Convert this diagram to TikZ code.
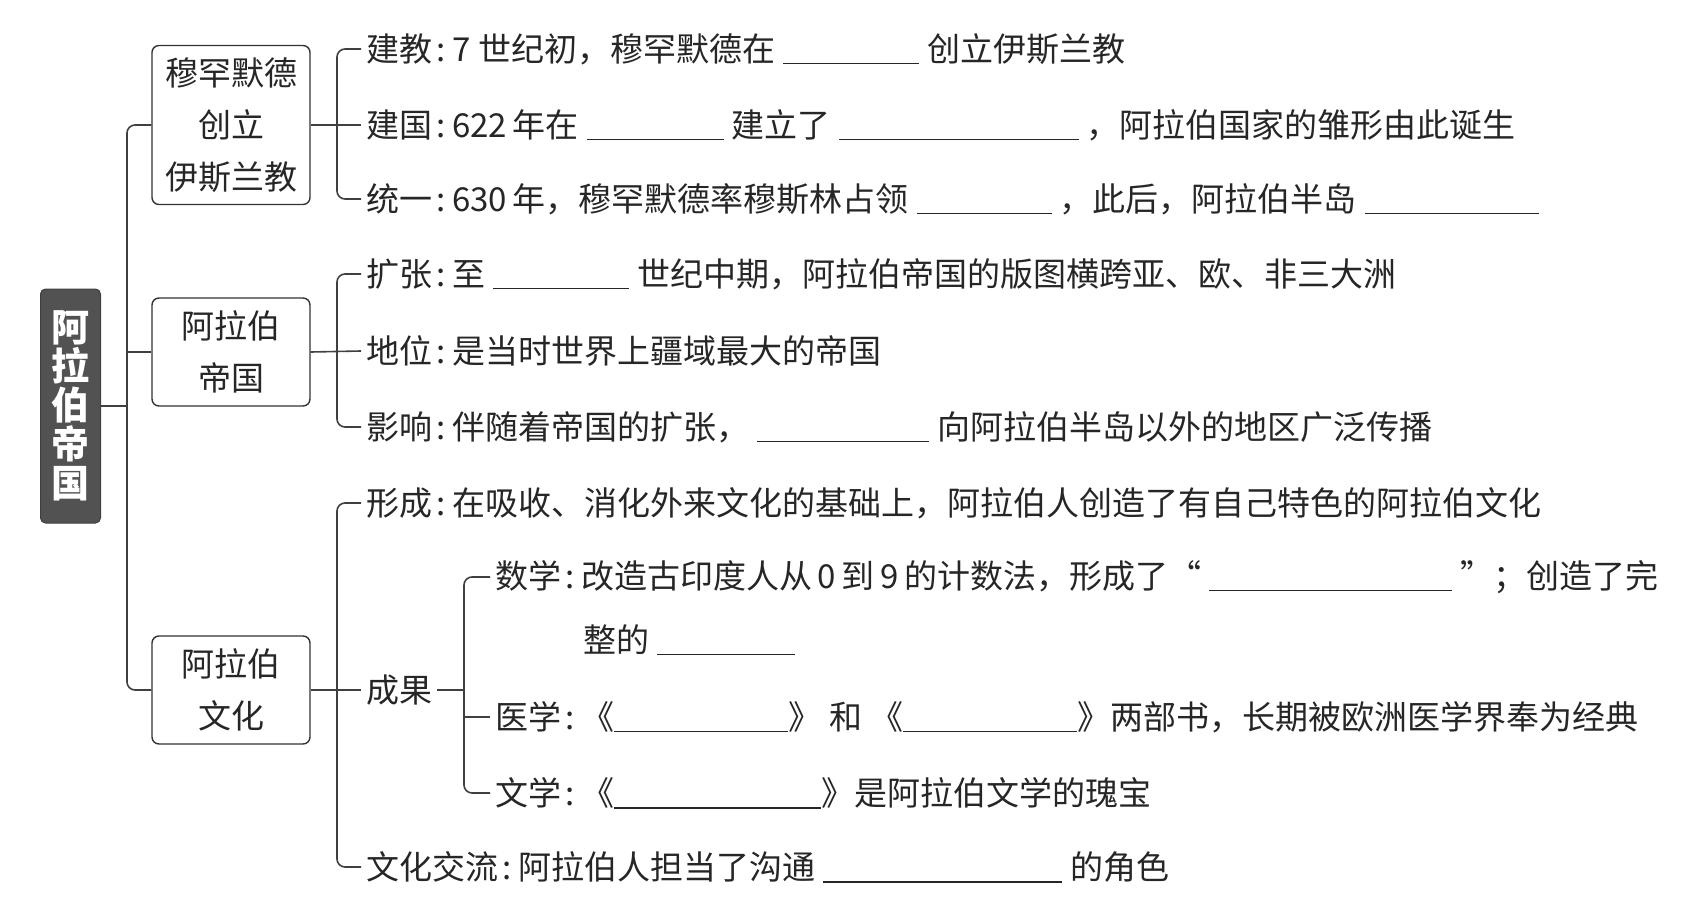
\documentclass[tikz,border=0pt]{standalone}
\usepackage{fontspec}
\setmainfont{Noto Sans CJK SC}
\usepackage{tikz}
\tikzset{
  mmtitle/.style={fill=black!68, draw=black!75, line width=1pt, rounded corners=5pt, text=white, font=\fontsize{38}{39}\selectfont\bfseries, align=center, minimum width=60pt, minimum height=234pt, inner sep=0pt},
  mmbox/.style={draw=black!80, line width=1.4pt, rounded corners=7pt, minimum width=158pt, align=center, inner sep=0pt, text=black!85, font=\fontsize{33}{52}\selectfont},
  mmtext/.style={anchor=west, inner xsep=5pt, inner ysep=2pt, text=black!85, font=\fontsize{33}{40}\selectfont},
  mmline/.style={line width=1.6pt, draw=black!75, rounded corners=8pt},
}
\newcommand{\blank}[1]{\rule[-3pt]{#1pt}{1.1pt}}
\newcommand{\gp}{\hspace{8pt}}
\newcommand{\cn}{\hspace{4pt}:\hspace{7pt}}

\begin{document}
\begin{tikzpicture}[x=1pt,y=-1pt]
\useasboundingbox (0,0) rectangle (1708,913);
\node[mmtitle] (arab) at (70.5,406) {阿\\拉\\伯\\帝\\国};
\node[mmbox, minimum height=159pt] (mhmd) at (231,125) {穆罕默德\\创立\\伊斯兰教};
\node[mmbox, minimum height=108pt] (empire) at (231,352) {阿拉伯\\帝国};
\node[mmbox, minimum height=108pt] (culture) at (231,690) {阿拉伯\\文化};
\coordinate (trunk) at (127,0);
\coordinate (brA) at (337,0);
\coordinate (brB) at (464,0);
\node[mmtext] (jianjiao) at (361,49) {建教\cn 7 世纪初，穆罕默德在\gp\blank{136}\gp 创立伊斯兰教};
\node[mmtext] (jianguo) at (361,125) {建国\cn 622\,年在\gp\blank{137}\gp 建立了\gp\blank{240}\gp，阿拉伯国家的雏形由此诞生};
\node[mmtext] (tongyi) at (361,199) {统一\cn 630\,年，穆罕默德率穆斯林占领\gp\blank{135}\gp，此后，阿拉伯半岛\gp\blank{174}};
\node[mmtext] (kuozhang) at (361,274) {扩张\cn 至\gp\blank{136}\gp 世纪中期，阿拉伯帝国的版图横跨亚、欧、非三大洲};
\node[mmtext] (diwei) at (361,351) {地位\cn 是当时世界上疆域最大的帝国};
\node[mmtext] (yingxiang) at (361,427) {影响\cn 伴随着帝国的扩张，\gp\blank{172}\gp 向阿拉伯半岛以外的地区广泛传播};
\node[mmtext] (xingcheng) at (361,503) {形成\cn 在吸收、消化外来文化的基础上，阿拉伯人创造了有自己特色的阿拉伯文化};
\node[mmtext] (chengguo) at (361,690) {成果};
\node[mmtext] (jiaoliu) at (361,867) {文化交流\cn 阿拉伯人担当了沟通\gp\blank{239}\gp 的角色};
\node[mmtext] (shuxue) at (490,577) {数学\cn 改造古印度人从\,0\,到\,9\,的计数法，形成了“\gp\blank{243}\gp”；创造了完};
\node[mmtext] (shuxueb) at (578,640) {整的\gp\blank{138}};
\node[mmtext] (yixue) at (490,717) {医学\cn《\blank{174}》\gp 和\gp《\blank{174}》两部书，长期被欧洲医学界奉为经典};
\node[mmtext] (wenxue) at (490,793) {文学\cn《\blank{207}》是阿拉伯文学的瑰宝};
\draw[mmline] (mhmd.west) -- (mhmd.west -| trunk) -- (culture.west -| trunk) -- (culture.west);
\draw[mmline] (arab.east) -- (arab.east -| trunk);
\draw[mmline] (empire.west -| trunk) -- (empire.west);
\draw[mmline] (jianjiao.west) -- (jianjiao.west -| brA) -- (tongyi.west -| brA) -- (tongyi.west);
\draw[mmline] (mhmd.east) -- (jianguo.west);
\draw[mmline] (kuozhang.west) -- (kuozhang.west -| brA) -- (yingxiang.west -| brA) -- (yingxiang.west);
\draw[mmline] (empire.east) -- (diwei.west);
\draw[mmline] (xingcheng.west) -- (xingcheng.west -| brA) -- (jiaoliu.west -| brA) -- (jiaoliu.west);
\draw[mmline] (culture.east) -- (chengguo.west);
\draw[mmline] (shuxue.west) -- (shuxue.west -| brB) -- (wenxue.west -| brB) -- (wenxue.west);
\draw[mmline] (chengguo.east) -- (chengguo.east -| brB);
\draw[mmline] (yixue.west -| brB) -- (yixue.west);
\end{tikzpicture}
\end{document}
